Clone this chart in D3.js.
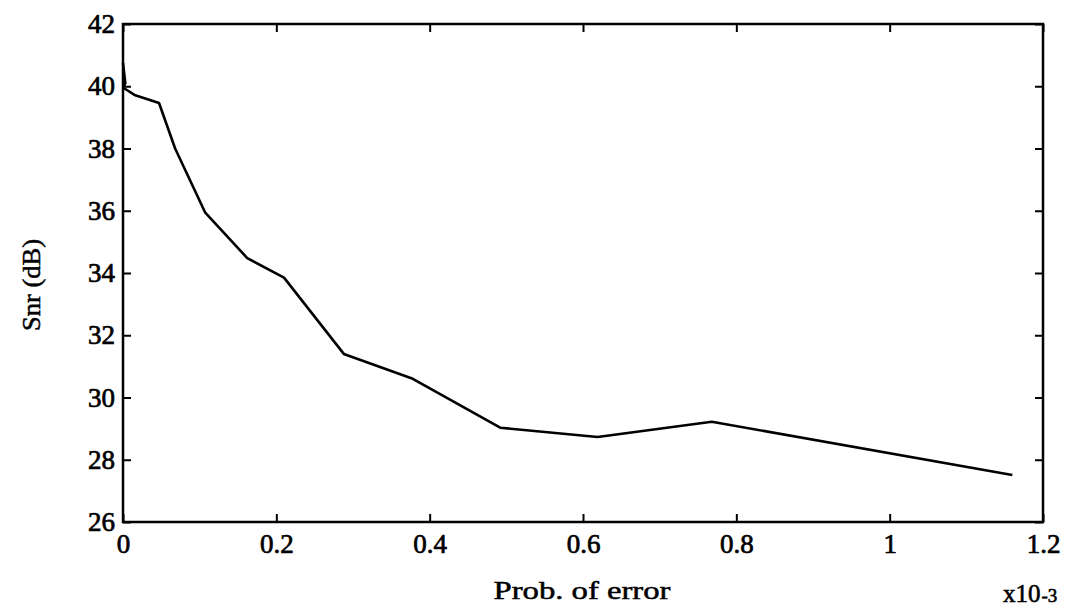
<!DOCTYPE html>
<html>
<head>
<meta charset="utf-8">
<script src="https://cdn.jsdelivr.net/npm/d3@7"></script>
<style>
  body { margin: 0; background: #fff; }
  text { font-family: "Liberation Serif", "DejaVu Serif", serif; fill: #000; }
</style>
</head>
<body>
<script>
// probability of error (x10^-3) vs snr
const probError = [0, 0.003, 0.0005, 0.005, 0.015, 0.047, 0.068, 0.107, 0.162, 0.21, 0.288, 0.378, 0.492, 0.619, 0.768, 1.16];
const snrDb = [40.75, 40.1, 39.95, 39.88, 39.72, 39.46, 38.0, 35.95, 34.48, 33.85, 31.4, 30.6, 29.03, 28.73, 29.22, 27.51];
const xTicks = [0, 0.2, 0.4, 0.6, 0.8, 1, 1.2];
const yTicks = [26, 28, 30, 32, 34, 36, 38, 40, 42];

const width = 1072, height = 610;
const margin = { top: 24, right: 29, bottom: 88, left: 123 };
const serif = '"Liberation Serif", "DejaVu Serif", serif';

const x = d3.scaleLinear().domain([0, 1.2]).range([margin.left, width - margin.right]);
const y = d3.scaleLinear().domain([26, 42]).range([height - margin.bottom, margin.top]);

const svg = d3.select('body').append('svg')
  .attr('width', width)
  .attr('height', height);

const tickLen = 8;

// inward ticks on all four sides
svg.append('g')
  .attr('transform', `translate(0,${y(26)})`)
  .call(d3.axisBottom(x).tickValues(xTicks).tickSizeInner(-tickLen).tickSizeOuter(0).tickPadding(12)
    .tickFormat(d => d === 0 ? '0' : d3.format('.1~f')(d)))
  .call(g => g.select('.domain').remove());

svg.append('g')
  .attr('transform', `translate(0,${y(42)})`)
  .call(d3.axisTop(x).tickValues(xTicks).tickSizeInner(-tickLen).tickSizeOuter(0).tickFormat(''))
  .call(g => g.select('.domain').remove());

svg.append('g')
  .attr('transform', `translate(${x(0)},0)`)
  .call(d3.axisLeft(y).tickValues(yTicks).tickSizeInner(-tickLen).tickSizeOuter(0).tickPadding(8))
  .call(g => g.select('.domain').remove());

svg.append('g')
  .attr('transform', `translate(${x(1.2)},0)`)
  .call(d3.axisRight(y).tickValues(yTicks).tickSizeInner(-tickLen).tickSizeOuter(0).tickFormat(''))
  .call(g => g.select('.domain').remove());

svg.selectAll('.tick line').attr('stroke', '#000').attr('stroke-width', 2);
svg.selectAll('.tick text')
  .attr('font-family', serif)
  .style('font-size', '27px')
  .attr('stroke', '#000').attr('stroke-width', 0.7);

// frame
svg.append('rect')
  .attr('x', x(0)).attr('y', y(42))
  .attr('width', x(1.2) - x(0)).attr('height', y(26) - y(42))
  .attr('fill', 'none').attr('stroke', '#000').attr('stroke-width', 2.5);

// curve
const line = d3.line().x((d, i) => x(probError[i])).y(d => y(d));
svg.append('path')
  .datum(snrDb)
  .attr('fill', 'none')
  .attr('stroke', '#000')
  .attr('stroke-width', 2.6)
  .attr('stroke-linejoin', 'round')
  .attr('d', line);

// labels
svg.append('text')
  .attr('transform', `translate(40,${(y(26) + y(42)) / 2 + 12}) rotate(-90)`)
  .attr('text-anchor', 'middle')
  .style('font-size', '25px')
  .attr('textLength', 92).attr('lengthAdjust', 'spacingAndGlyphs')
  .attr('stroke', '#000').attr('stroke-width', 0.5)
  .text('Snr  (dB)');

svg.append('text')
  .attr('x', 582).attr('y', 599)
  .attr('text-anchor', 'middle')
  .style('font-size', '25px')
  .attr('textLength', 177).attr('lengthAdjust', 'spacingAndGlyphs')
  .attr('stroke', '#000').attr('stroke-width', 0.5)
  .text('Prob.  of  error');

const exp = svg.append('text')
  .attr('x', 1003).attr('y', 602)
  .style('font-size', '25px')
  .attr('stroke', '#000').attr('stroke-width', 0.6);
exp.append('tspan').text('x10');
exp.append('tspan').style('font-size', '19px').attr('dx', 1).text('-3');
</script>
</body>
</html>
